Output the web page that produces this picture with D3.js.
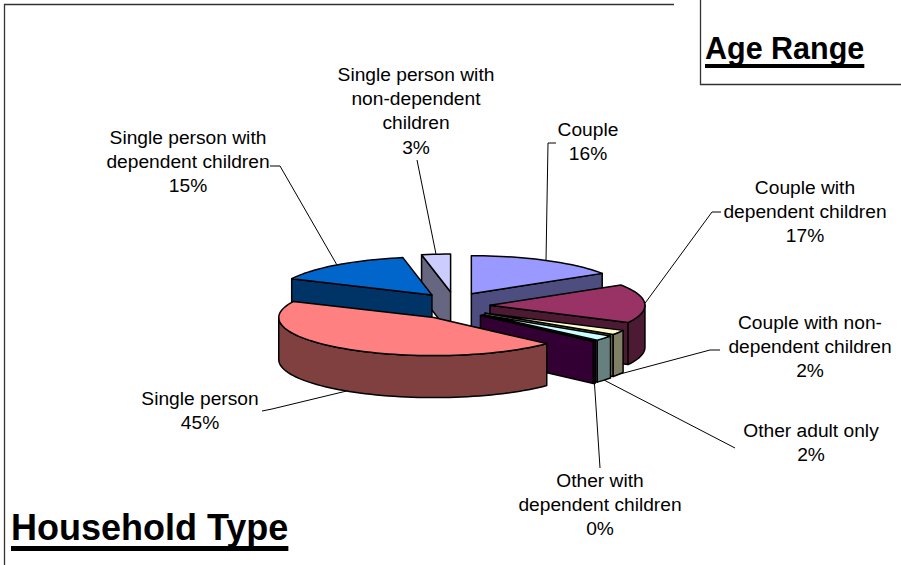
<!DOCTYPE html>
<html><head><meta charset="utf-8">
<style>html,body{margin:0;padding:0;background:#fff}svg{display:block}</style>
<script src="https://cdn.jsdelivr.net/npm/d3@7"></script>
</head><body><svg id="c" width="901" height="565"></svg>
<script>
const categories=["Couple","Couple with dependent children","Couple with non-dependent children","Other adult only","Other with dependent children","Single person","Single person with dependent children","Single person with non-dependent children"];
const values=[16,16.5,2,2.2,0.3,45,15,3];
const percentLabels=["16%","17%","2%","2%","0%","45%","15%","3%"];
const topColors=["#9999FF","#993366","#FFFFCC","#CCFFFF","#660066","#FF8080","#0066CC","#CCCCFF"];
const sideColors=["#4D4D80","#4D1A33","#808066","#668080","#330033","#804040","#003366","#666680"];
const drawOrder=[0,7,6,1,2,3,4,5];
const labelLines=[["Couple"],["Couple with","dependent children"],["Couple with non-","dependent children"],["Other adult only"],["Other with","dependent children"],["Single person"],["Single person with","dependent children"],["Single person with","non-dependent","children"]];
const labelLayout=[
 {x:588,y:136,elbow:[[556,143],[548,143]],z:0},
 {x:805,y:194,elbow:[[721,212],[712,212]],z:0},
 {x:810,y:329,elbow:[[720,350],[710,350]],z:1},
 {x:811,y:437,elbow:[[735,448]],z:1},
 {x:600,y:487,elbow:[[600,468]],z:1},
 {x:200,y:405,elbow:[[262,411],[272,409]],z:1},
 {x:188,y:144,elbow:[[270,166],[280,166]],z:0},
 {x:416,y:81,elbow:[[417,160]],z:0}];

const cx=454,cy=306,rx=155,ry=38,ex=36,ey=14,depth=42;
const svg=d3.select("#c");
const arcs=d3.pie().sort(null).startAngle(0).endAngle(2*Math.PI).value(d=>d)(values);
const pt=(a,r,o)=>[o[0]+r*rx*Math.sin(a),o[1]-r*ry*Math.cos(a)];
const down=(p)=>[p[0],p[1]+depth];
const line=d3.line();
function origin(d){const m=(d.startAngle+d.endAngle)/2;return [cx+ex*Math.sin(m),cy-ey*Math.cos(m)];}
function arcPts(d,o){const n=Math.max(2,Math.ceil((d.endAngle-d.startAngle)/0.04));return d3.range(n+1).map(i=>pt(d.startAngle+(d.endAngle-d.startAngle)*i/n,1,o));}
const g=svg.append("g");
drawOrder.forEach(i=>{
 const d=arcs[i],o=origin(d),A=arcPts(d,o),s=sideColors[i],t=topColors[i];
 const first=A[0],last=A[A.length-1];
 const face=(pts,fill)=>g.append("path").attr("d",line(pts)+"Z").attr("fill",fill).attr("stroke","#000").attr("stroke-width",1.5).attr("stroke-linejoin","round");
 if(Math.sin(d.startAngle)<-1e-6)face([o,first,down(first),down(o)],s);
 if(Math.sin(d.endAngle)>1e-6)face([o,last,down(last),down(o)],s);
 const front=A.filter((p,k)=>{const a=d.startAngle+(d.endAngle-d.startAngle)*k/(A.length-1);return Math.cos(a)<=0.02;});
 if(front.length>1)face(front.concat(front.map(down).reverse()),s);
 face([o].concat(A),t);
});
arcs.forEach((d,i)=>{
 const L=labelLayout[i],m=(d.startAngle+d.endAngle)/2,o=origin(d);
 let e=pt(m,1,o); if(L.z)e=down(e);
 svg.append("path").attr("d",line(L.elbow.concat([e]))).attr("fill","none").attr("stroke","#000").attr("stroke-width",1);
 const T=svg.append("text").attr("text-anchor","middle").attr("font-family","'Liberation Sans',Arial,sans-serif").attr("font-size",19.2).attr("fill","#000");
 labelLines[i].concat([percentLabels[i]]).forEach((s,k)=>T.append("tspan").attr("x",L.x).attr("y",L.y+k*24.2).text(s));
});
// frame
const frame=[[[4.5,565],[4.5,4.5],[674,4.5]],[[700.5,0],[700.5,84.5],[901,84.5]]];
frame.forEach(f=>svg.append("path").attr("d",line(f)).attr("fill","none").attr("stroke","#333").attr("stroke-width",1.3));
[["Household Type",11,540,36,5,6],["Age Range",705,59,30.5,4,5]].forEach(([s,x,y,fs,u,gap])=>{
 const t=svg.append("text").attr("x",x).attr("y",y).attr("font-family","'Liberation Sans',Arial,sans-serif").attr("font-weight","bold").attr("font-size",fs).text(s);
 const w=t.node().getComputedTextLength();
 svg.append("rect").attr("x",x).attr("y",y+gap).attr("width",w).attr("height",u);
});
</script></body></html>
